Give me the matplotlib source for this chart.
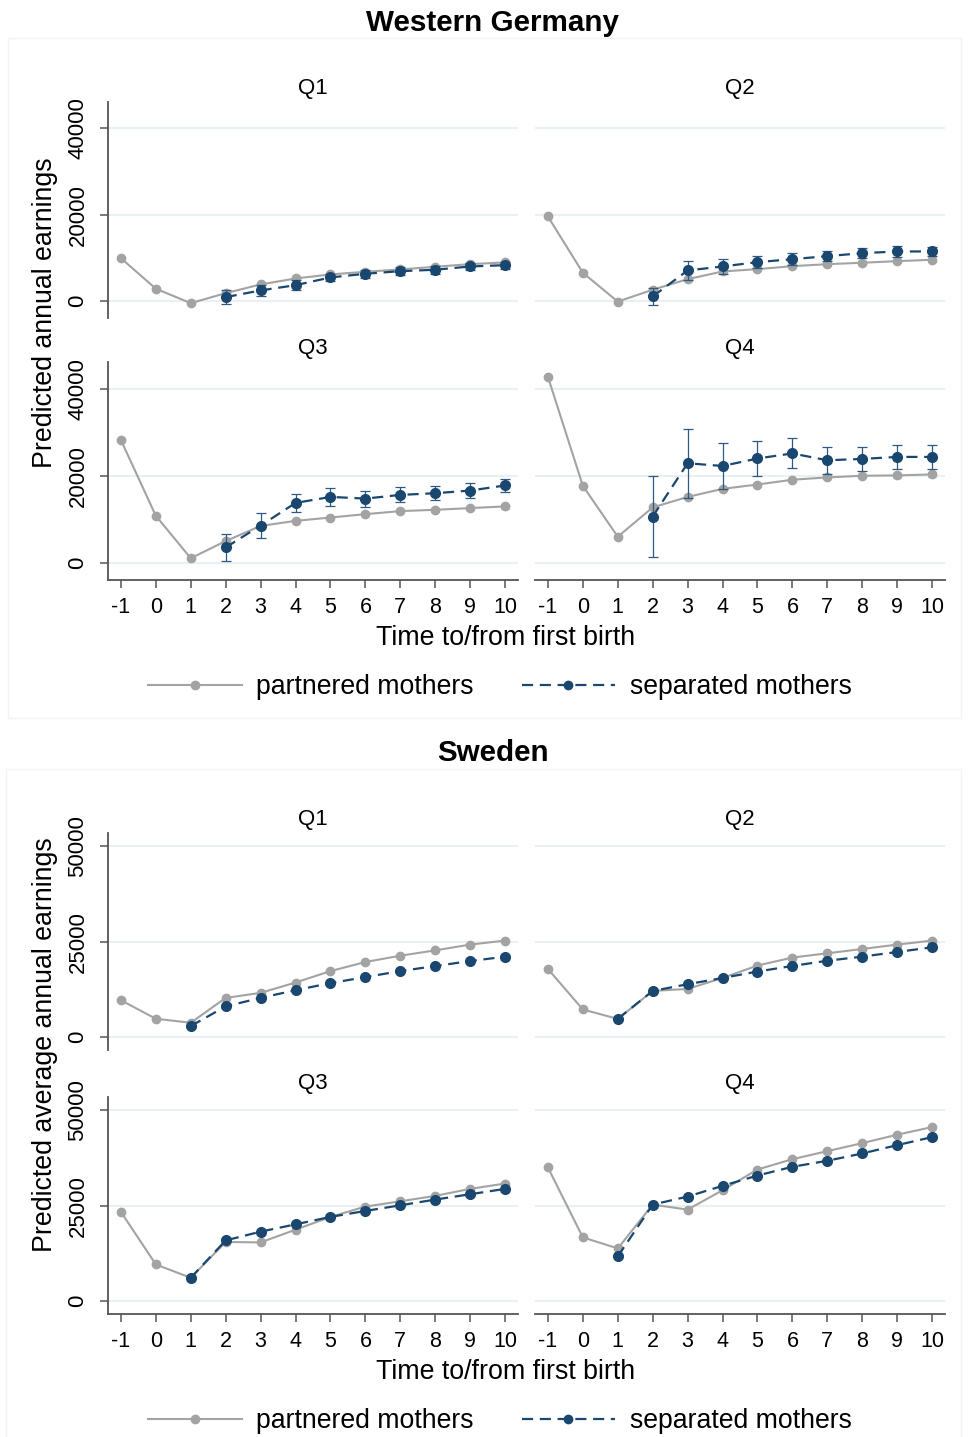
"""Predicted earnings of partnered vs separated mothers, by quartile (W. Germany & Sweden)."""
import numpy as np
import matplotlib
matplotlib.use("Agg")
import matplotlib.pyplot as plt
from matplotlib.lines import Line2D
from matplotlib.patches import Rectangle

plt.rcParams["font.family"] = ["Liberation Sans", "DejaVu Sans"]

# ---- data --------------------------------------------------------------------
years = [-1, 0, 1, 2, 3, 4, 5, 6, 7, 8, 9, 10]
tick_labels = ["-1", "0", "1", "2", "3", "4", "5", "6", "7", "8", "9", "10"]
quartiles = ["Q1", "Q2", "Q3", "Q4"]

# Western Germany
wg_sep_years = [2, 3, 4, 5, 6, 7, 8, 9, 10]
wg_q1_part = [9950, 2870, -460, 1850, 3870, 5250, 6180, 6800, 7340, 7960, 8570, 8960]
wg_q2_part = [19600, 6570, -100, 2640, 5090, 6870, 7410, 8100, 8560, 8890, 9260, 9580]
wg_q3_part = [28200, 10820, 1090, 5030, 8510, 9660, 10430, 11200, 11900, 12200, 12590, 12980]
wg_q4_part = [42700, 17700, 6030, 12750, 15150, 17000, 18000, 19100, 19630, 20010, 20090, 20320]
wg_part_err = [300, 300, 300, 400, 400, 400, 400, 450, 450, 500, 500, 550]

wg_q1_sep = [930, 2480, 3700, 5490, 6340, 6940, 7270, 8030, 8330]
wg_q2_sep = [1090, 7100, 8030, 9030, 9720, 10420, 11110, 11500, 11500]
wg_q3_sep = [3570, 8580, 13770, 15160, 14770, 15620, 16000, 16620, 17780]
wg_q4_sep = [10660, 22870, 22250, 23970, 25130, 23560, 23870, 24330, 24330]

wg_q1_err = [1550, 1200, 1100, 900, 900, 900, 900, 900, 800]
wg_q2_err = [1950, 2100, 1700, 1400, 1400, 1150, 1150, 1200, 1100]
wg_q3_err = [3100, 2800, 2150, 2150, 1850, 1700, 1550, 1700, 1550]
wg_q4_err = [9300, 7900, 5300, 4100, 3450, 3100, 2700, 2750, 2750]

# Sweden
se_sep_years = [1, 2, 3, 4, 5, 6, 7, 8, 9, 10]
se_q1_part = [9610, 4750, 3700, 10220, 11540, 14260, 17260, 19640, 21300, 22700, 24210, 25260]
se_q2_part = [17820, 7180, 4720, 12050, 12580, 15460, 18710, 20810, 21930, 23060, 24210, 25260]
se_q3_part = [23340, 9550, 6050, 15450, 15340, 18680, 22030, 24740, 26130, 27550, 29390, 30790]
se_q4_part = [35000, 16660, 13760, 25260, 23950, 29030, 34470, 37180, 39290, 41390, 43600, 45610]

se_q1_sep = [2830, 8000, 10220, 12250, 14100, 15680, 17260, 18580, 19900, 21030]
se_q2_sep = [4720, 12050, 13810, 15460, 17140, 18610, 19970, 21060, 22270, 23510]
se_q3_sep = [6050, 15870, 18160, 20080, 22030, 23600, 25080, 26580, 27980, 29390]
se_q4_sep = [11660, 25260, 27370, 30180, 32890, 35180, 36760, 38680, 40870, 42970]

GRAY = "#a3a3a3"
NAVY = "#1a476f"
GRID = "#e9f0f2"
SPINE = "#555555"

W, H = 969, 1437
fig = plt.figure(figsize=(W / 100, H / 100), dpi=100)


def px_axes(x0, y0, x1, y1):
    return fig.add_axes([x0 / W, 1 - y1 / H, (x1 - x0) / W, (y1 - y0) / H])


def panel(ax, title, part, sep_x, sep, sep_err, part_err, yticks, ylim,
          left, bottom):
    ax.set_xlim(-1.37, 10.37)
    ax.set_ylim(*ylim)
    ax.set_yticks(yticks)
    ax.set_xticks(years)
    ax.grid(axis="y", color=GRID, lw=1.5)
    ax.set_axisbelow(True)
    for s in ax.spines.values():
        s.set_visible(False)
    ax.spines["left"].set_visible(left)
    ax.spines["bottom"].set_visible(bottom)
    for s in ("left", "bottom"):
        ax.spines[s].set_color(SPINE)
        ax.spines[s].set_linewidth(1.3)

    ax.tick_params(axis="y", left=left, labelleft=left, length=6, width=1.1,
                   color=SPINE, labelsize=16, pad=8)
    for lab in ax.get_yticklabels():
        lab.set_rotation(90)
        lab.set_va("center")
    ax.tick_params(axis="x", bottom=bottom, labelbottom=bottom, length=6,
                   width=1.1, color=SPINE, labelsize=15.5, pad=6)
    if bottom:
        ax.set_xticklabels(tick_labels)

    if part_err is not None:
        ax.errorbar(years, part, yerr=part_err, fmt="none", ecolor=GRAY,
                    elinewidth=0.8, capsize=3, capthick=0.8, zorder=2)
    ax.plot(years, part, color=GRAY, lw=1.5, marker="o", ms=6,
            mec=GRAY, mfc=GRAY, zorder=3)
    if sep_err is not None:
        ax.errorbar(sep_x, sep, yerr=sep_err, fmt="none", ecolor="#2c5a82",
                    elinewidth=0.9, capsize=3.6, capthick=0.9, zorder=4)
    ax.plot(sep_x, sep, color=NAVY, lw=1.6, dashes=(5, 3), marker="o",
            ms=7, mec=NAVY, mfc=NAVY, zorder=5)
    ax.set_title(title, fontsize=16, pad=6)


def legend_row(y):
    handles = [
        Line2D([], [], color=GRAY, lw=1.5, marker="o", ms=6),
        Line2D([], [], color=NAVY, lw=1.6, dashes=(5, 3), marker="o", ms=6),
    ]
    fig.legend(handles, ["partnered mothers", "separated mothers"],
               loc="center", bbox_to_anchor=(500 / W, 1 - y / H), ncol=2,
               frameon=False, fontsize=19.2, handlelength=3.5,
               handletextpad=0.55, columnspacing=1.8)


# faint frames around the two blocks
fig.patches.append(Rectangle((8 / W, 1 - 718 / H), 953 / W, 680 / H,
                             transform=fig.transFigure, fill=False,
                             ec="#f3f3f3", lw=1))
fig.patches.append(Rectangle((6 / W, 1 - 1445 / H), 955 / W, 676 / H,
                             transform=fig.transFigure, fill=False,
                             ec="#f3f3f3", lw=1))

# ---- Western Germany ---------------------------------------------------------
wg_part = [wg_q1_part, wg_q2_part, wg_q3_part, wg_q4_part]
wg_sep = [wg_q1_sep, wg_q2_sep, wg_q3_sep, wg_q4_sep]
wg_err = [wg_q1_err, wg_q2_err, wg_q3_err, wg_q4_err]
wg_boxes = [(108, 102, 518, 318), (535, 102, 945, 318),
            (108, 362, 518, 580), (535, 362, 945, 580)]
for i, box in enumerate(wg_boxes):
    ax = px_axes(*box)
    panel(ax, quartiles[i], wg_part[i], wg_sep_years, wg_sep[i], wg_err[i],
          wg_part_err, [0, 20000, 40000], (-3900, 46100),
          left=(i % 2 == 0), bottom=(i >= 2))

fig.text(493 / W, 1 - 23 / H, "Western Germany", ha="center", va="center",
         fontsize=21.3, fontweight="bold")
fig.text(45 / W, 1 - 313 / H, "Predicted annual earnings", rotation=90,
         ha="center", va="center", fontsize=19.3)
fig.text(506 / W, 1 - 638 / H, "Time to/from first birth", ha="center",
         va="center", fontsize=19.3)
legend_row(687)

# ---- Sweden ------------------------------------------------------------------
se_part = [se_q1_part, se_q2_part, se_q3_part, se_q4_part]
se_sep = [se_q1_sep, se_q2_sep, se_q3_sep, se_q4_sep]
se_boxes = [(108, 833, 518, 1050), (535, 833, 945, 1050),
            (108, 1097, 518, 1314), (535, 1097, 945, 1314)]
for i, box in enumerate(se_boxes):
    ax = px_axes(*box)
    panel(ax, quartiles[i], se_part[i], se_sep_years, se_sep[i], None, None,
          [0, 25000, 50000], (-3450, 53500),
          left=(i % 2 == 0), bottom=(i >= 2))

fig.text(493 / W, 1 - 753 / H, "Sweden", ha="center", va="center",
         fontsize=21.3, fontweight="bold")
fig.text(45 / W, 1 - 1045 / H, "Predicted average annual earnings",
         rotation=90, ha="center", va="center", fontsize=19.3)
fig.text(506 / W, 1 - 1372 / H, "Time to/from first birth", ha="center",
         va="center", fontsize=19.3)
legend_row(1421)

fig.savefig("out.png", dpi=100, facecolor="white")
